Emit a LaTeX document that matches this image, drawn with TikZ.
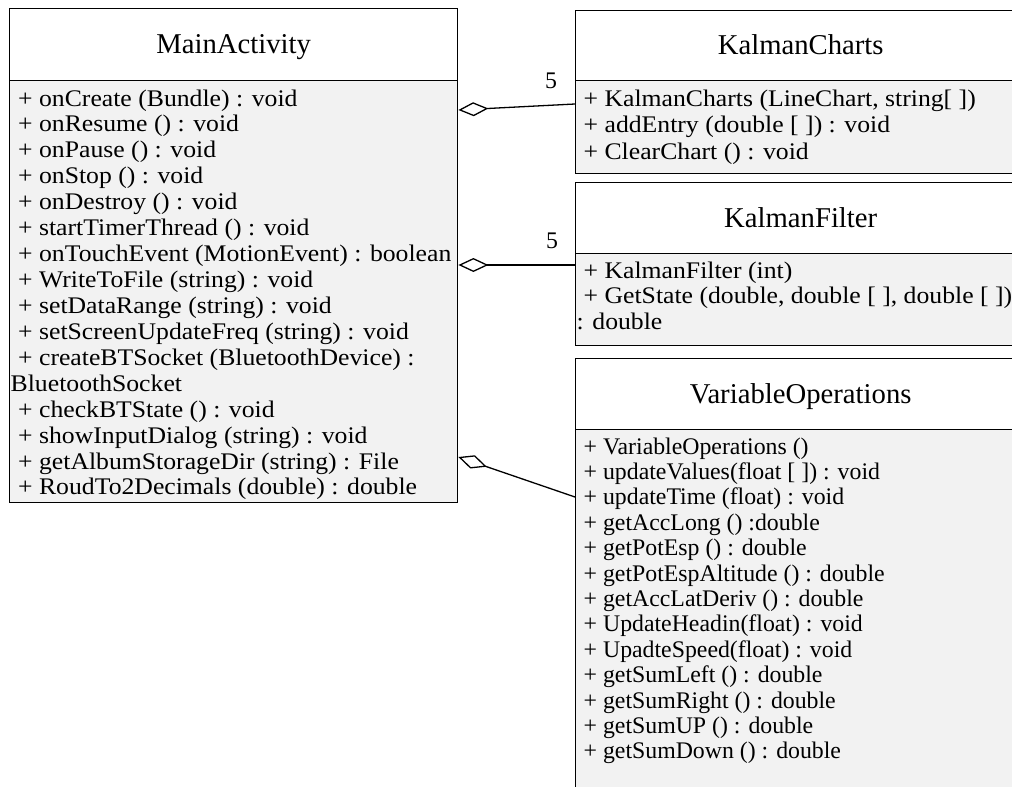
\documentclass[tikz,border=0pt]{standalone}
\usepackage{fontspec}
\setmainfont{Liberation Serif}
\newfontfamily\wideserif[FakeStretch=1.08]{Liberation Serif}
\usetikzlibrary{arrows.meta,calc}
\definecolor{bodyfill}{HTML}{F2F2F2}
\begin{document}
\begin{tikzpicture}[x=1pt,y=-1pt,
  box/.style={draw=black, line width=1.4pt, rectangle, inner sep=0pt, anchor=north west},
  head/.style={box, fill=white, text height=20pt, text depth=2pt,
    font=\fontsize{28.7}{30}\selectfont},
  body/.style={box, fill=bodyfill},
  member/.style={anchor=base west, inner sep=0pt, font=\fontsize{23.8}{26}\selectfont},
  widemember/.style={member, font=\wideserif\fontsize{23.8}{26}\selectfont},
  mult/.style={inner sep=0pt, anchor=base, font=\fontsize{23.8}{26}\selectfont},
  aggr/.style={line width=1.3pt, {Diamond[open, length=30pt, width=14pt]}-}
]
\useasboundingbox (0,0) rectangle (1012,787);
\clip (0,0) rectangle (1012,787);
\fill[white] (0,0) rectangle (1012,787);

% MainActivity
\node[head, minimum width=448pt, minimum height=72pt] (maH) at (9,8) {MainActivity};
\node[body, minimum width=448pt, minimum height=422pt] (maB) at (9,80) {};
\foreach \m [count=\i from 0] in {
  {+ onCreate (Bundle) : void},
  {+ onResume () : void},
  {+ onPause () : void},
  {+ onStop () : void},
  {+ onDestroy () : void},
  {+ startTimerThread () : void},
  {+ onTouchEvent (MotionEvent) : boolean},
  {+ WriteToFile (string) : void},
  {+ setDataRange (string) : void},
  {+ setScreenUpdateFreq (string) : void},
  {+ createBTSocket (BluetoothDevice) :}}
  \node[widemember] (ma-\i) at ($(maB.north west)+(9,26+\i*25.93)$) {\m};
% wrapped continuation line starts at the compartment edge
\node[widemember] (ma-11) at ($(maB.north west)+(1.5,26+11*25.93)$) {BluetoothSocket};
\foreach \m [count=\i from 12] in {
  {+ checkBTState () : void},
  {+ showInputDialog (string) : void},
  {+ getAlbumStorageDir (string) : File},
  {+ RoudTo2Decimals (double) : double}}
  \node[widemember] (ma-\i) at ($(maB.north west)+(9,26+\i*25.93)$) {\m};

% KalmanCharts
\node[head, minimum width=450pt, minimum height=70pt] (kcH) at (575,10) {KalmanCharts};
\node[body, minimum width=450pt, minimum height=93pt] (kcB) at (575,80) {};
\foreach \m [count=\i from 0] in {
  {+ KalmanCharts (LineChart, string[ ])},
  {+ addEntry (double [ ]) : void},
  {+ ClearChart () : void}}
  \node[widemember] (kc-\i) at ($(kcB.north west)+(8.5,26+\i*26.5)$) {\m};

% KalmanFilter
\node[head, minimum width=450pt, minimum height=71pt] (kfH) at (575,182) {KalmanFilter};
\node[body, minimum width=450pt, minimum height=92pt] (kfB) at (575,253) {};
\node[widemember] (kf-0) at ($(kfB.north west)+(8.5,25)$) {+ KalmanFilter (int)};
\node[widemember] (kf-1) at ($(kfB.north west)+(8.5,25+25.5)$) {+ GetState (double, double [ ], double [ ])};
\node[widemember] (kf-2) at ($(kfB.north west)+(1.5,25+2*25.5)$) {: double};

% VariableOperations
\node[head, minimum width=450pt, minimum height=71pt] (voH) at (575,358) {VariableOperations};
\node[body, minimum width=450pt, minimum height=400pt] (voB) at (575,429) {};
\foreach \m [count=\i from 0] in {
  {+ VariableOperations ()},
  {+ updateValues(float [ ]) : void},
  {+ updateTime (float) : void},
  {+ getAccLong () :double},
  {+ getPotEsp () : double},
  {+ getPotEspAltitude () : double},
  {+ getAccLatDeriv () : double},
  {+ UpdateHeadin(float) : void},
  {+ UpadteSpeed(float) : void},
  {+ getSumLeft () : double},
  {+ getSumRight () : double},
  {+ getSumUP () : double},
  {+ getSumDown () : double}}
  \node[member] (vo-\i) at ($(voB.north west)+(8.5,25+\i*25.4)$) {\m};

% aggregation connectors
\coordinate (aA) at ($(maB.north east)+(0,30)$);
\coordinate (bA) at ($(kcB.north west)+(0,24)$);
\draw[aggr] (aA) -- (bA);
\node[mult] (mA) at ($(bA)+(-24,-16)$) {5};

\coordinate (aB) at ($(maB.north east)+(0,185)$);
\coordinate (bB) at ($(kfB.north west)+(0,12)$);
\draw[aggr] (aB) -- (bB);
\node[mult] (mB) at ($(bB)+(-23,-17)$) {5};

\coordinate (aC) at ($(maB.north east)+(0,377)$);
\coordinate (bC) at ($(voB.north west)+(0,68)$);
\draw[aggr] (aC) -- (bC);
\end{tikzpicture}
\end{document}
